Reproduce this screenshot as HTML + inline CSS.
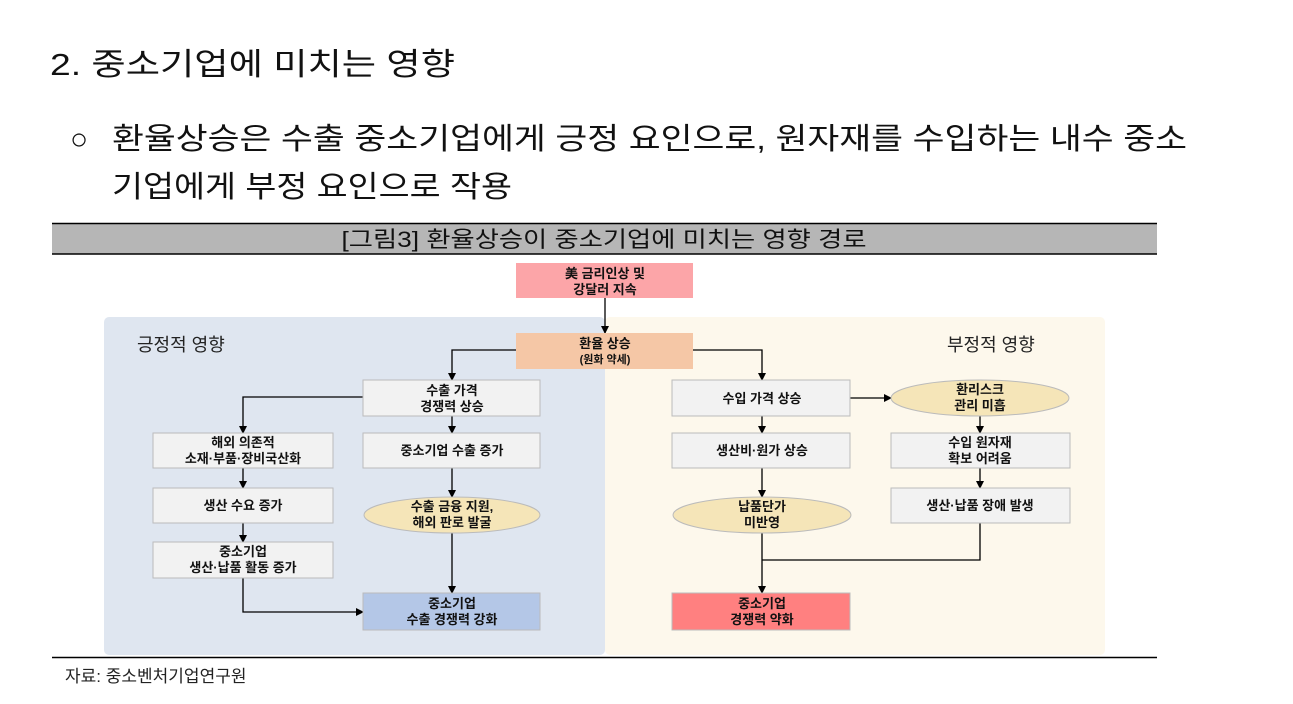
<!DOCTYPE html>
<html><head><meta charset="utf-8"><style>
html,body{margin:0;padding:0;background:#fff;width:1293px;height:704px;overflow:hidden}
svg{display:block;font-family:"Liberation Sans","Noto Sans CJK KR",sans-serif}
.b{font-weight:bold;font-size:13px;fill:#111}
</style></head><body>
<svg width="1293" height="704" viewBox="0 0 1293 704">
<defs><marker id="a" markerWidth="8" markerHeight="8" refX="7" refY="4" orient="auto" markerUnits="userSpaceOnUse"><path d="M0,0 L8,4 L0,8 z" fill="#000"/></marker></defs>
<text x="50" y="75" font-size="31" fill="#111" textLength="405" lengthAdjust="spacingAndGlyphs">2. 중소기업에 미치는 영향</text>
<text x="70" y="149" font-size="30" fill="#111">○</text>
<text x="112" y="149" font-size="30" fill="#111" textLength="1075" lengthAdjust="spacingAndGlyphs">환율상승은 수출 중소기업에게 긍정 요인으로, 원자재를 수입하는 내수 중소</text>
<text x="112" y="197" font-size="30" fill="#111" textLength="400" lengthAdjust="spacingAndGlyphs">기업에게 부정 요인으로 작용</text>
<rect x="52" y="223" width="1105" height="31" fill="#b6b6b6"/>
<line x1="52" y1="223.5" x2="1157" y2="223.5" stroke="#000" stroke-width="1.5"/>
<line x1="52" y1="254" x2="1157" y2="254" stroke="#000" stroke-width="1.5"/>
<text x="604" y="247" font-size="22" fill="#111" text-anchor="middle" textLength="525" lengthAdjust="spacingAndGlyphs">[그림3] 환율상승이 중소기업에 미치는 영향 경로</text>
<rect x="104" y="317" width="501" height="338" rx="5" fill="#dfe6f0"/>
<rect x="605" y="317" width="500" height="338" rx="5" fill="#fdf8ec"/>
<text x="137" y="351" font-size="18" fill="#222">긍정적 영향</text>
<text x="947" y="351" font-size="18" fill="#222">부정적 영향</text>
<line x1="52" y1="657.5" x2="1157" y2="657.5" stroke="#000" stroke-width="1.5"/>
<text x="65" y="682" font-size="17" fill="#222">자료: 중소벤처기업연구원</text>
<g stroke="#000" stroke-width="1.3" fill="none" marker-end="url(#a)">
<path d="M605,298 V333"/>
<path d="M516,350 H452 V380"/>
<path d="M693,350 H762 V380"/>
<path d="M363,397 H243 V433"/>
<path d="M452,416 V433"/><path d="M452,468 V497"/><path d="M452,533 V593"/>
<path d="M243,468 V488"/><path d="M243,523 V542"/><path d="M243,578 V612 H363"/>
<path d="M762,416 V433"/><path d="M762,468 V497"/><path d="M762,533 V593"/>
<path d="M850,398 H891"/>
<path d="M980,416 V433"/><path d="M980,468 V488"/>
</g>
<path d="M980,523 V560 H762" stroke="#000" stroke-width="1.3" fill="none"/>
<g stroke="#bbb" stroke-width="1">
<rect x="516" y="263" width="177" height="35" fill="#fca5a8" stroke="none"/>
<rect x="516" y="333" width="177" height="36" fill="#f5c7a6" stroke="none"/>
<rect x="363" y="380" width="177" height="36" fill="#f2f2f2"/>
<rect x="153" y="433" width="180" height="35" fill="#f2f2f2"/>
<rect x="363" y="433" width="177" height="35" fill="#f2f2f2"/>
<rect x="153" y="488" width="180" height="35" fill="#f2f2f2"/>
<ellipse cx="452" cy="515" rx="88" ry="18" fill="#f5e5b8"/>
<rect x="153" y="542" width="180" height="36" fill="#f2f2f2"/>
<rect x="363" y="593" width="177" height="37" fill="#b4c7e7"/>
<rect x="672" y="380" width="178" height="36" fill="#f2f2f2"/>
<ellipse cx="980" cy="398" rx="89" ry="18" fill="#f5e5b8"/>
<rect x="672" y="433" width="178" height="35" fill="#f2f2f2"/>
<rect x="891" y="433" width="179" height="35" fill="#f2f2f2"/>
<ellipse cx="762" cy="515" rx="89" ry="18" fill="#f5e5b8"/>
<rect x="891" y="488" width="179" height="35" fill="#f2f2f2"/>
<rect x="672" y="593" width="178" height="37" fill="#ff8080"/>
</g>
<g class="b" text-anchor="middle">
<text x="605" y="278">美 금리인상 및</text><text x="605" y="294">강달러 지속</text>
<text x="605" y="348">환율 상승</text><text x="605" y="363" font-size="11">(원화 약세)</text>
<text x="452" y="395">수출 가격</text><text x="452" y="411">경쟁력 상승</text>
<text x="243" y="447">해외 의존적</text><text x="243" y="463">소재·부품·장비국산화</text>
<text x="452" y="455">중소기업 수출 증가</text>
<text x="243" y="510">생산 수요 증가</text>
<text x="452" y="511">수출 금융 지원,</text><text x="452" y="527">해외 판로 발굴</text>
<text x="243" y="556">중소기업</text><text x="243" y="572">생산·납품 활동 증가</text>
<text x="452" y="608">중소기업</text><text x="452" y="624">수출 경쟁력 강화</text>
<text x="762" y="403">수입 가격 상승</text>
<text x="980" y="394">환리스크</text><text x="980" y="410">관리 미흡</text>
<text x="762" y="455">생산비·원가 상승</text>
<text x="980" y="447">수입 원자재</text><text x="980" y="463">확보 어려움</text>
<text x="762" y="511">납품단가</text><text x="762" y="527">미반영</text>
<text x="980" y="510">생산·납품 장애 발생</text>
<text x="762" y="608">중소기업</text><text x="762" y="624">경쟁력 약화</text>
</g>
</svg>
</body></html>
